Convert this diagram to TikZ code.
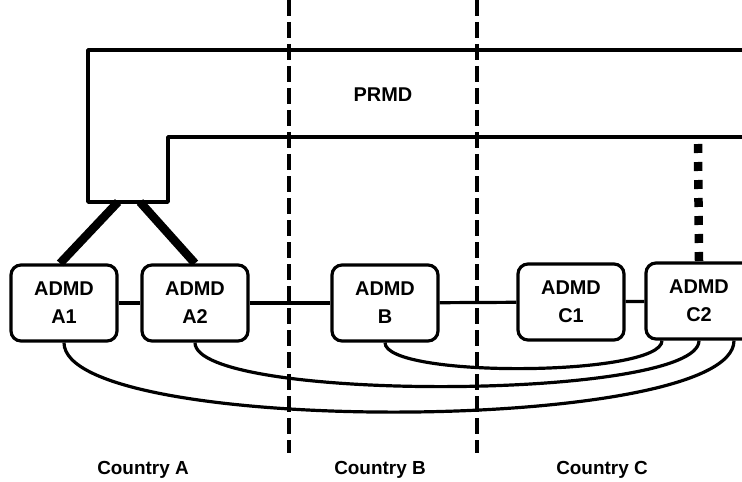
\documentclass[tikz,border=0pt]{standalone}
\usepackage{fontspec}
\setmainfont{Liberation Sans}
\usetikzlibrary{positioning}

\tikzset{
  admd/.style={draw,line width=3.2bp,rounded corners=10bp,minimum width=106bp,
    minimum height=76bp,align=center,inner sep=0pt,
    font=\fontsize{20}{28}\selectfont\bfseries},
  link/.style={line width=3.2bp},
  border/.style={line width=3.2bp,dash pattern=on 16bp off 6bp},
  label/.style={font=\fontsize{19}{22}\selectfont\bfseries}
}

\begin{document}
\begin{tikzpicture}[x=1bp,y=-1bp,line join=round]
  \useasboundingbox (0,0) rectangle (742,482);

  % Country borders.
  \draw[border] (289,0) -- (289,453);
  \draw[border] (477,0) -- (477,453);

  % The PRMD band with its stem over country A.
  \draw[line width=3.6bp] (760,50) -- (88,50) -- (88,202) -- (168,202) -- (168,137) -- (760,137);
  \node[label,font=\fontsize{20}{22}\selectfont\bfseries] (prmd) at (383,95) {PRMD};
  \coordinate (stemL) at (118,202);
  \coordinate (stemR) at (140,202);

  % Management domains.
  \node[admd] (a1) at (64,303) {ADMD\\A1};
  \node[admd] (a2) at (195,303) {ADMD\\A2};
  \node[admd] (b) at (385,303) {ADMD\\B};
  \node[admd] (c1) at (571,302) {ADMD\\C1};
  \node[admd] (c2) at (699,301) {ADMD\\C2};

  % Links from the PRMD.
  \draw[line width=8.5bp] (stemL) -- ([xshift=-4bp]a1.north);
  \draw[line width=8.5bp] (stemR) -- (a2.north);
  \coordinate (prmdC) at (698,144);
  \draw[line width=8.5bp,dash pattern=on 9bp off 9bp] (prmdC) -- (c2.north);

  % Links between neighbours.
  \draw[link] (a1) -- (a2);
  \draw[link] (a2) -- (b);
  \draw[link] (b) -- (c1);
  \draw[link] (c1) -- (c2);

  % Long links to C2.
  \draw[link] (b.south) .. controls +(0,36) and +(0,36) .. ([xshift=-37bp]c2.south);
  \draw[link] (a2.south) .. controls +(0,60) and +(0,60) .. (c2.south);
  \draw[link] (a1.south) .. controls +(0,94) and +(0,94) .. ([xshift=35bp]c2.south);

  % Country names.
  \node[label] (cA) at (143,470) {Country A};
  \node[label] (cB) at (380,470) {Country B};
  \node[label] (cC) at (602,470) {Country C};
\end{tikzpicture}
\end{document}
